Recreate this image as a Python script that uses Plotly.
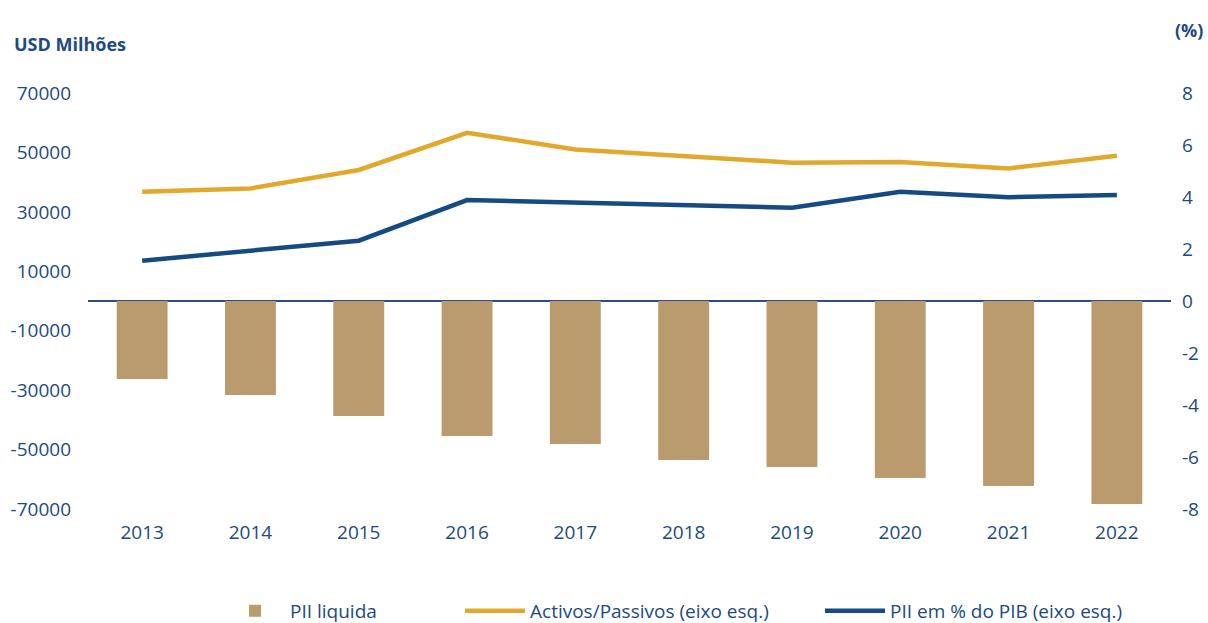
import plotly.graph_objects as go

# Data
YEARS = ["2013", "2014", "2015", "2016", "2017", "2018", "2019", "2020", "2021", "2022"]
PII_LIQUIDA = [-26250, -31630, -38700, -45430, -48120, -53500, -55860, -59560, -62250, -68310]
ACTIVOS_PASSIVOS = [4.20, 4.33, 5.04, 6.47, 5.83, 5.57, 5.32, 5.35, 5.10, 5.59]
PII_PCT_PIB = [1.55, 1.93, 2.32, 3.88, 3.79, 3.69, 3.59, 4.20, 3.99, 4.08]

LEFT_TICKS = [-70000, -50000, -30000, -10000, 10000, 30000, 50000, 70000]
LEFT_LABELS = ["-70000", "-50000", "-30000", "-10000", "10000", "30000", "50000", "70000"]
RIGHT_TICKS = [-8, -6, -4, -2, 0, 2, 4, 6, 8]
RIGHT_LABELS = ["-8", "-6", "-4", "-2", "0", "2", "4", "6", "8"]

TEXT = "#1d4a80"
FONT = "Open Sans"
BAR = "#b99b6e"
GOLD = "#e1a92c"
NAVY = "#164a82"

fig = go.Figure()

fig.add_trace(
    go.Bar(
        x=YEARS,
        y=PII_LIQUIDA,
        name="PII liquida",
        marker=dict(color=BAR, line=dict(width=0)),
        width=0.47,
        yaxis="y",
        legend="legend",
    )
)
fig.add_trace(
    go.Scatter(
        x=YEARS,
        y=ACTIVOS_PASSIVOS,
        name="Activos/Passivos (eixo esq.)",
        mode="lines",
        line=dict(color=GOLD, width=4.5),
        yaxis="y2",
        legend="legend2",
    )
)
fig.add_trace(
    go.Scatter(
        x=YEARS,
        y=PII_PCT_PIB,
        name="PII em % do PIB (eixo esq.)",
        mode="lines",
        line=dict(color=NAVY, width=4.5),
        yaxis="y2",
        legend="legend3",
    )
)


def _legend(x: float) -> dict:
    """One-entry legend placed under the plot at paper x."""
    return dict(
        orientation="h",
        x=x,
        xanchor="left",
        y=-0.245,
        yanchor="middle",
        font=dict(family=FONT, size=19, color=TEXT),
        itemwidth=60,
        bgcolor="rgba(0,0,0,0)",
    )


fig.update_layout(
    width=1208,
    height=623,
    margin=dict(l=88, r=37, t=93, b=114, autoexpand=False),
    paper_bgcolor="white",
    plot_bgcolor="white",
    font=dict(family=FONT, size=19, color=TEXT),
    showlegend=True,
    legend=_legend(0.1219),
    legend2=_legend(0.3435),
    legend3=_legend(0.6759),
    xaxis=dict(
        automargin=False,
        showline=False,
        showgrid=False,
        ticks="",
        ticklabelstandoff=10,
        tickfont=dict(family=FONT, size=19, color=TEXT),
    ),
    yaxis=dict(
        automargin=False,
        range=[-70000, 70000],
        tickvals=LEFT_TICKS,
        ticktext=LEFT_LABELS,
        showgrid=False,
        showline=False,
        zeroline=True,
        zerolinecolor="#2a4f7e",
        zerolinewidth=1.5,
        ticklabelstandoff=16,
        tickfont=dict(family=FONT, size=19, color=TEXT),
    ),
    yaxis2=dict(
        automargin=False,
        range=[-8, 8],
        overlaying="y",
        side="right",
        tickvals=RIGHT_TICKS,
        ticktext=RIGHT_LABELS,
        showgrid=False,
        showline=False,
        zeroline=False,
        ticklabelstandoff=10,
        tickfont=dict(family=FONT, size=19, color=TEXT),
    ),
    annotations=[
        dict(
            text="<b>USD Milhões</b>",
            xref="paper",
            yref="paper",
            x=-0.0702,
            y=1.1178,
            xanchor="left",
            yanchor="middle",
            showarrow=False,
            font=dict(family=FONT, size=18, color=TEXT),
        ),
        dict(
            text="<b>(%)</b>",
            xref="paper",
            yref="paper",
            x=1.0314,
            y=1.1514,
            xanchor="right",
            yanchor="middle",
            showarrow=False,
            font=dict(family=FONT, size=18, color=TEXT),
        ),
    ],
)

# the default page adds an 8px body margin; drop it so the figure fills the window
fig.write_html(
    "out.html",
    config={"displayModeBar": False},
    post_script="document.body.style.margin = '0px';",
)
